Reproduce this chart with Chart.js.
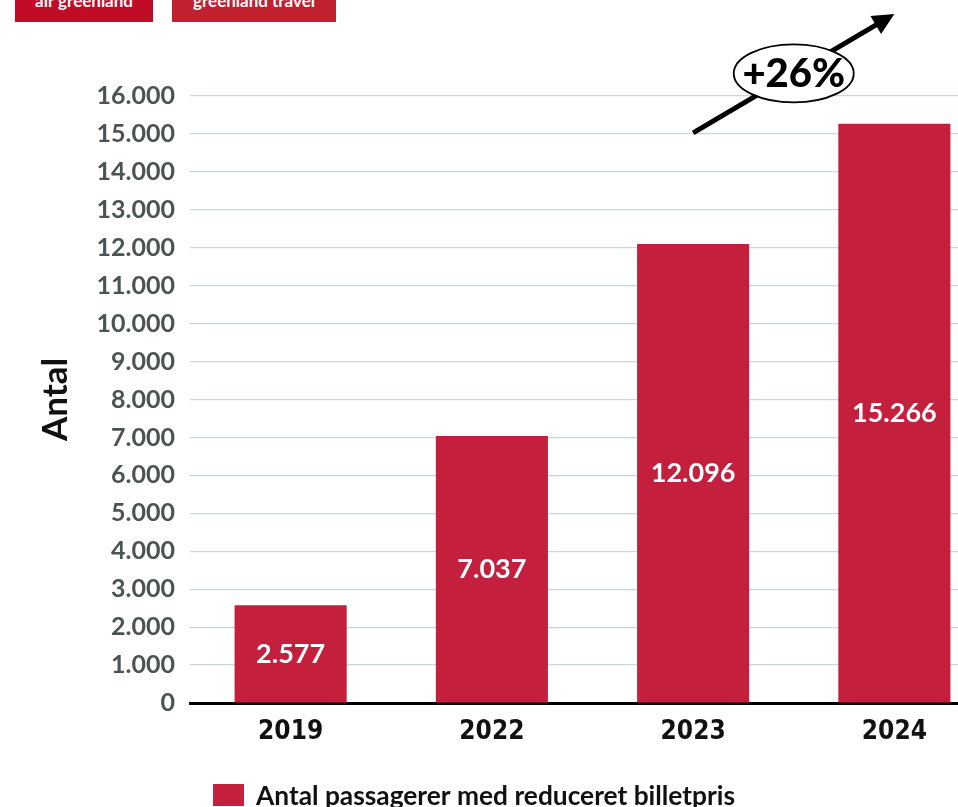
<!DOCTYPE html>
<html>
<head>
<meta charset="utf-8">
<script src="https://cdn.jsdelivr.net/npm/chart.js@4.4.1/dist/chart.umd.min.js"></script>
<style>
  html, body { margin: 0; padding: 0; background: #fff; overflow: hidden; }
  #wrap { position: relative; width: 958px; height: 807px; overflow: hidden; }
  #chart { position: absolute; left: 0; top: 0; }
  .brand { position: absolute; top: 0; height: 22px; overflow: hidden; color: #fff;
           font: bold 17px Lato, sans-serif; text-align: center; }
  .brand span { position: absolute; left: 0; right: 0; top: -8px; line-height: 17px; }
</style>
</head>
<body>
<div id="wrap">
  <canvas id="chart" width="1000" height="807"></canvas>
  <div class="brand" style="left:15px;width:138px;background:#c20b26"><span>air greenland</span></div>
  <div class="brand" style="left:172px;width:164px;background:#c1202f"><span>greenland travel</span></div>
</div>
<script>
// Passagerer med reduceret billetpris pr. år
const years = ['2019', '2022', '2023', '2024'];
const passengers = [2577, 7037, 12096, 15266];
const seriesLabel = 'Antal passagerer med reduceret billetpris';
const growthLabel = '+26%';
const barRed = '#c41f3d';

const fmt = v => String(v).replace(/\B(?=(\d{3})+(?!\d))/g, '.');

// white numbers inside each bar
const barValues = {
    id: 'barValues',
    afterDatasetsDraw(chart) {
        const ctx = chart.ctx;
        const meta = chart.getDatasetMeta(0);
        ctx.save();
        ctx.fillStyle = '#fff';
        ctx.font = 'bold 27px Lato, sans-serif';
        ctx.textAlign = 'center';
        ctx.textBaseline = 'middle';
        meta.data.forEach((bar, i) => {
            ctx.fillText(fmt(passengers[i]), bar.x, (bar.y + bar.base) / 2);
        });
        ctx.restore();
    }
};

// growth arrow from 2023 to 2024 with the percentage in an ellipse
const growthArrow = {
    id: 'growthArrow',
    afterDraw(chart) {
        const ctx = chart.ctx;
        const xs = chart.scales.x, ys = chart.scales.y;
        const x1 = xs.getPixelForValue(2), y1 = ys.getPixelForValue(15030);
        const x2 = xs.getPixelForValue(3), y2 = ys.getPixelForValue(18160);
        const ang = Math.atan2(y2 - y1, x2 - x1);
        const head = 24;
        ctx.save();
        ctx.strokeStyle = '#000';
        ctx.fillStyle = '#000';
        ctx.lineWidth = 5;
        ctx.beginPath();
        ctx.moveTo(x1, y1);
        ctx.lineTo(x2 - Math.cos(ang) * head * 0.8, y2 - Math.sin(ang) * head * 0.8);
        ctx.stroke();
        ctx.beginPath();
        ctx.moveTo(x2, y2);
        ctx.lineTo(x2 - Math.cos(ang - 0.45) * head, y2 - Math.sin(ang - 0.45) * head);
        ctx.lineTo(x2 - Math.cos(ang + 0.45) * head, y2 - Math.sin(ang + 0.45) * head);
        ctx.closePath();
        ctx.fill();

        const cx = (x1 + x2) / 2, cy = (y1 + y2) / 2;
        ctx.beginPath();
        ctx.ellipse(cx, cy, 60, 29, 0, 0, Math.PI * 2);
        ctx.fillStyle = '#fff';
        ctx.fill();
        ctx.lineWidth = 1.8;
        ctx.stroke();
        ctx.fillStyle = '#000';
        ctx.font = '900 40px Lato, sans-serif';
        ctx.textAlign = 'center';
        ctx.textBaseline = 'middle';
        ctx.fillText(growthLabel, cx, cy + 1);
        ctx.restore();
    }
};

// legend key under the x axis
const bottomKey = {
    id: 'bottomKey',
    afterDraw(chart) {
        const ctx = chart.ctx;
        const ds = chart.data.datasets[0];
        ctx.save();
        ctx.fillStyle = ds.backgroundColor;
        ctx.fillRect(213, 784, 31, 22);
        ctx.fillStyle = '#111';
        ctx.font = 'bold 26.3px Lato, sans-serif';
        ctx.textBaseline = 'middle';
        ctx.fillText(ds.label, 256, 797);
        ctx.restore();
    }
};

new Chart(document.getElementById('chart'), {
    type: 'bar',
    data: {
        labels: years,
        datasets: [{
            label: seriesLabel,
            data: passengers,
            backgroundColor: barRed,
            barPercentage: 0.557,
            categoryPercentage: 1
        }]
    },
    options: {
        responsive: false,
        animation: false,
        layout: { padding: { top: 96, right: 5, left: 0, bottom: 0 } },
        plugins: {
            legend: { display: false },
            tooltip: { enabled: false }
        },
        scales: {
            x: {
                grid: { display: false },
                border: { color: '#000', width: 3 },
                ticks: {
                    color: '#111',
                    font: { family: '"Liberation Sans Narrow", "DejaVu Sans Condensed", sans-serif', weight: 'bold', size: 26 },
                    padding: 6
                },
                afterFit(scale) { scale.height = 104; }
            },
            y: {
                min: 0,
                max: 16000,
                grid: {
                    color: ctx => ctx.tick.value === 0 ? 'rgba(0,0,0,0)' : '#c9d8d6',
                    lineWidth: 1.2,
                    drawTicks: false
                },
                border: { display: false },
                ticks: {
                    stepSize: 1000,
                    padding: 15,
                    color: '#4b5354',
                    font: { family: 'Lato', weight: 'bold', size: 25 },
                    callback: v => fmt(v)
                },
                title: {
                    display: true,
                    text: 'Antal',
                    color: '#111',
                    font: { family: 'Lato', weight: 'bold', size: 35 },
                    padding: { top: 35, bottom: 0 }
                },
                afterFit(scale) { scale.width = 190; }
            }
        }
    },
    plugins: [barValues, growthArrow, bottomKey]
});
</script>
</body>
</html>
